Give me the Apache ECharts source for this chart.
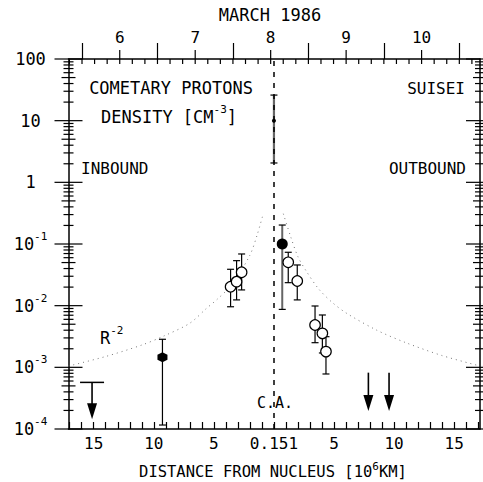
<!DOCTYPE html>
<html><head><meta charset="utf-8">
<script src="https://cdn.jsdelivr.net/npm/echarts@6/dist/echarts.min.js"></script>
<style>html,body{margin:0;padding:0;background:#fff}#c{width:483px;height:482px}</style>
</head><body><div id="c"></div>
<script>
// ---------- data (x = signed distance from nucleus, 10^6 km; inbound negative) ----------
const openCircles = [[-3.61, 0.0203], [-3.11, 0.0245], [-2.69, 0.0348], [1.19, 0.0505], [1.94, 0.0251], [3.42, 0.00486], [4.03, 0.00356], [4.33, 0.0018]];
const openCircleErrors = [[-3.61, 0.0096, 0.0389], [-3.11, 0.0124, 0.0537], [-2.69, 0.0180, 0.0689], [1.19, 0.0236, 0.0734], [1.94, 0.0124, 0.0457], [3.42, 0.00251, 0.00988], [4.03, 0.00171, 0.00706], [4.33, 0.00078, 0.00314]];
const filledCircles = [[0.69, 0.10]];
const filledCircleErrors = [[0.69, 0.0087, 0.203]];
const hexagons = [[-9.28, 0.00146]];
const hexagonErrors = [[-9.28, 0.000116, 0.00285]];
const closestApproach = [[0, 10]];
const closestApproachErrors = [[0, 2.06, 26]];
const inboundLimits = [[-15.14, 0.00057, 0.000144]];
const outboundLimits = [[7.86, 0.00082, 0.000196], [9.58, 0.00082, 0.000196]];
const r2Inbound = [[-17.1, 0.00105], [-14, 0.0015], [-11, 0.0023], [-9.2, 0.0032], [-7, 0.0052], [-5.6, 0.0091], [-4.78, 0.0124], [-3.5, 0.022], [-2.0, 0.066], [-1.4, 0.14], [-0.89, 0.31]];
const r2Outbound = [[0.78, 0.31], [1.4, 0.13], [2.0, 0.062], [2.72, 0.0356], [3.69, 0.019], [4.8, 0.0115], [6.06, 0.0075], [8.56, 0.0040], [11, 0.0025], [14, 0.00155], [17.15, 0.00105]];
const distanceLabels = [-15, -10, -5, 0, 5, 10, 15];
const dayLabels = [6.5, 7.5, 8.5, 9.5, 10.5];
const decadeExponents = [-4, -3, -2, -1, 0, 1, 2];

// ---------- tick positions ----------
const distanceTicks = []; for (let i = -17; i <= 17; i++) distanceTicks.push(i);
const midnightTicks = [6, 7, 8, 9, 10, 11];
const yTickData = [];
for (let n = -4; n <= 2; n++) {
  yTickData.push([0, Math.pow(10, n), 14]);
  if (n < 2) for (let k = 2; k <= 9; k++) yTickData.push([0, k * Math.pow(10, n), k === 5 ? 7 : 5]);
}
const topTickData = [];
for (let i = 35; i <= 67; i++) topTickData.push([i / 6, 100, 5, 1]);      // every 4 h, inward
dayLabels.forEach(d => topTickData.push([d, 100, 9, -1]));              // noon, outward

const FONT = '"DejaVu Sans Mono", monospace';
const BLACK = '#000';
const LINE = { show: true, onZero: false, lineStyle: { color: BLACK, width: 1.5 } };

function axisBase(extra) {
  return Object.assign({
    splitLine: { show: false },
    axisLine: LINE,
    axisLabel: { show: false },
    axisTick: { show: false }
  }, extra);
}
function tick(values, len, inside) {
  return { show: true, customValues: values, length: len, inside: inside, lineStyle: { color: BLACK, width: 1.2 } };
}

function errRender(color, width) {
  return function (params, api) {
    const x = api.value(0), lo = api.value(1), hi = api.value(2);
    const a = api.coord([x, lo]), b = api.coord([x, hi]);
    const h = 3.5;
    return { type: 'group', children: [
      { type: 'line', shape: { x1: a[0], y1: a[1], x2: b[0], y2: b[1] }, style: { stroke: color, lineWidth: width } },
      { type: 'line', shape: { x1: a[0] - h, y1: a[1], x2: a[0] + h, y2: a[1] }, style: { stroke: BLACK, lineWidth: 1.2 } },
      { type: 'line', shape: { x1: b[0] - h, y1: b[1], x2: b[0] + h, y2: b[1] }, style: { stroke: BLACK, lineWidth: 1.2 } }
    ] };
  };
}
function arrowRender(withCap) {
  return function (params, api) {
    const x = api.value(0), top = api.value(1), tip = api.value(2);
    const a = api.coord([x, top]), b = api.coord([x, tip]);
    const hw = 5, hh = 16;
    const ch = [
      { type: 'line', shape: { x1: a[0], y1: a[1], x2: b[0], y2: b[1] - hh + 2 }, style: { stroke: BLACK, lineWidth: 1.6 } },
      { type: 'polygon', shape: { points: [[b[0] - hw, b[1] - hh], [b[0] + hw, b[1] - hh], [b[0], b[1]]] }, style: { fill: BLACK } }
    ];
    if (withCap) ch.push({ type: 'line', shape: { x1: a[0] - 12, y1: a[1], x2: a[0] + 12, y2: a[1] }, style: { stroke: BLACK, lineWidth: 1.5 } });
    return { type: 'group', children: ch };
  };
}
function yTickRender(params, api) {
  const v = api.value(1), len = api.value(2);
  const cs = params.coordSys;
  const y = api.coord([0, v])[1];
  const L = cs.x, R = cs.x + cs.width;
  return { type: 'group', children: [
    { type: 'line', shape: { x1: L - len, y1: y, x2: L + len, y2: y }, style: { stroke: BLACK, lineWidth: 1.2 } },
    { type: 'line', shape: { x1: R - len, y1: y, x2: R + len, y2: y }, style: { stroke: BLACK, lineWidth: 1.2 } }
  ] };
}
function topTickRender(params, api) {
  const p = api.coord([api.value(0), api.value(1)]);
  const len = api.value(2), dir = api.value(3);
  return { type: 'line', shape: { x1: p[0], y1: p[1], x2: p[0], y2: p[1] + dir * len }, style: { stroke: BLACK, lineWidth: 1.2 } };
}

const supRich = {
  b: { fontFamily: FONT, fontSize: 17, lineHeight: 26, color: BLACK },
  s: { fontFamily: FONT, fontSize: 11, lineHeight: 10, verticalAlign: 'top', color: BLACK }
};

const chart = echarts.init(document.getElementById('c'), null, { renderer: 'svg' });
chart.setOption({
  animation: false,
  backgroundColor: '#fff',
  grid: { left: 68.5, right: 3, top: 59, bottom: 53, outerBoundsMode: 'none' },
  xAxis: [
    axisBase({ type: 'value', position: 'bottom', min: -17.1, max: 17.15,
      axisTick: tick(distanceTicks, 7, true),
      axisLabel: { show: true, customValues: distanceLabels, margin: 6, color: BLACK, fontFamily: FONT, fontSize: 16,
        formatter: v => v === 0 ? '0.151' : String(Math.abs(v)) } }),
    axisBase({ type: 'value', position: 'top', min: 5.821, max: 11.274,
      axisTick: tick(midnightTicks, 16, false),
      axisLabel: { show: true, customValues: dayLabels, margin: 14, color: BLACK, fontFamily: FONT, fontSize: 16,
        formatter: v => String(Math.floor(v)) } })
  ],
  yAxis: [
    axisBase({ type: 'log', min: 1e-4, max: 100, position: 'left', logBase: 10 }),
    axisBase({ type: 'value', min: -4, max: 2, position: 'right' }),
    axisBase({ type: 'value', min: -4, max: 2, position: 'left', axisLine: { show: false, onZero: false },
      axisLabel: { show: true, customValues: decadeExponents, margin: 38, align: 'center',
        formatter: v => v === 2 ? '{b|100}' : v === 1 ? '{b|10}' : v === 0 ? '{b|1}' : '{b|10}{s|' + v + '}',
        rich: supRich } })
  ],
  series: [
    { type: 'line', name: 'R-2 inbound', data: r2Inbound, showSymbol: false, symbol: 'none', smooth: 0.3, z: 1,
      lineStyle: { color: '#777', width: 1, type: [1, 4] },
      markLine: { silent: true, symbol: ['none', 'none'], label: { show: false },
        lineStyle: { color: BLACK, width: 1.5, type: [5, 6] }, data: [{ xAxis: 0 }] } },
    { type: 'line', name: 'R-2 outbound', data: r2Outbound, showSymbol: false, symbol: 'none', smooth: 0.3, z: 1,
      lineStyle: { color: '#777', width: 1, type: [1, 4] } },
    { type: 'custom', name: 'y ticks', data: yTickData, renderItem: yTickRender, encode: { x: 0, y: 1 }, clip: false, silent: true, z: 4 },
    { type: 'custom', name: 'top ticks', xAxisIndex: 1, data: topTickData, renderItem: topTickRender, encode: { x: 0, y: 1 }, clip: false, silent: true, z: 4 },
    { type: 'custom', name: 'open errors', data: openCircleErrors, renderItem: errRender(BLACK, 1.2), encode: { x: 0, y: [1, 2] }, z: 2 },
    { type: 'custom', name: 'filled errors', data: filledCircleErrors, renderItem: errRender('#666', 2), encode: { x: 0, y: [1, 2] }, z: 2 },
    { type: 'custom', name: 'hex errors', data: hexagonErrors, renderItem: errRender(BLACK, 1.2), encode: { x: 0, y: [1, 2] }, z: 2 },
    { type: 'custom', name: 'CA errors', data: closestApproachErrors, renderItem: errRender('#666', 2.2), encode: { x: 0, y: [1, 2] }, z: 2 },
    { type: 'scatter', name: 'open', data: openCircles, symbol: 'circle', symbolSize: 10.5, z: 3,
      itemStyle: { color: '#fff', borderColor: BLACK, borderWidth: 1.2, opacity: 1 } },
    { type: 'scatter', name: 'filled', data: filledCircles, symbol: 'circle', symbolSize: 11, z: 3,
      itemStyle: { color: BLACK, opacity: 1 } },
    { type: 'scatter', name: 'hexagon', data: hexagons, symbol: 'path://M0,-10L8.66,-5L8.66,5L0,10L-8.66,5L-8.66,-5Z', symbolSize: 10, z: 3,
      itemStyle: { color: BLACK, opacity: 1 } },
    { type: 'scatter', name: 'CA', data: closestApproach, symbol: 'circle', symbolSize: 4, z: 3,
      itemStyle: { color: BLACK, opacity: 1 } },
    { type: 'custom', name: 'inbound limit', data: inboundLimits, renderItem: arrowRender(true), encode: { x: 0, y: [1, 2] }, z: 3 },
    { type: 'custom', name: 'outbound limits', data: outboundLimits, renderItem: arrowRender(false), encode: { x: 0, y: [1, 2] }, z: 3 }
  ],
  graphic: [
    { type: 'text', x: 270, y: 15, style: { text: 'MARCH 1986', font: '17px ' + FONT, fill: BLACK, align: 'center', verticalAlign: 'middle' } },
    { type: 'text', x: 171, y: 88, style: { text: 'COMETARY PROTONS', font: '17px ' + FONT, fill: BLACK, align: 'center', verticalAlign: 'middle' } },
    { type: 'text', x: 169, y: 117, style: { text: '{b|DENSITY [CM}{s|-3}{b|]}', rich: supRich, align: 'center', verticalAlign: 'middle' } },
    { type: 'text', x: 81, y: 168, style: { text: 'INBOUND', font: '16px ' + FONT, fill: BLACK, align: 'left', verticalAlign: 'middle' } },
    { type: 'text', x: 465, y: 88, style: { text: 'SUISEI', font: '16px ' + FONT, fill: BLACK, align: 'right', verticalAlign: 'middle' } },
    { type: 'text', x: 466, y: 168, style: { text: 'OUTBOUND', font: '16px ' + FONT, fill: BLACK, align: 'right', verticalAlign: 'middle' } },
    { type: 'text', x: 100, y: 338, style: { text: '{b|R}{s|-2}', rich: supRich, align: 'left', verticalAlign: 'middle' } },
    { type: 'text', x: 275, y: 403, style: { text: 'C.A.', font: '15px ' + FONT, fill: BLACK, align: 'center', verticalAlign: 'middle' } },
    { type: 'text', x: 273, y: 472, style: { text: '{t|DISTANCE FROM NUCLEUS [10}{u|6}{t|KM]}', align: 'center', verticalAlign: 'middle',
      rich: { t: { fontFamily: FONT, fontSize: 15.5, lineHeight: 22, color: BLACK }, u: { fontFamily: FONT, fontSize: 11, lineHeight: 10, verticalAlign: 'top', color: BLACK } } } }
  ]
});
</script>
</body></html>
